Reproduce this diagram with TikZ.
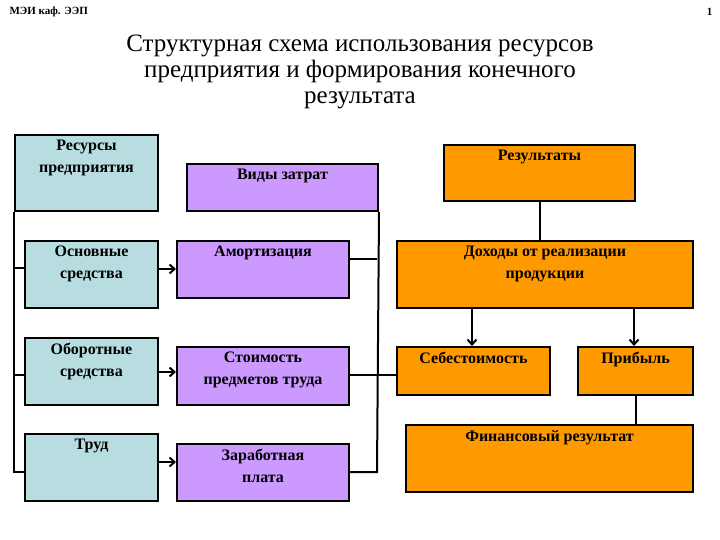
\documentclass[tikz,border=0pt]{standalone}
\usepackage{fontspec}
\setmainfont{Liberation Serif}
\usetikzlibrary{arrows.meta}
\definecolor{cblue}{HTML}{B7DDE0}
\definecolor{cpurp}{HTML}{CC99FF}
\definecolor{corng}{HTML}{FF9900}
\tikzset{
 box/.style={draw=black,line width=2pt,anchor=north west,inner sep=0pt},
 lbl/.style={anchor=north,align=center,font=\fontsize{16}{22}\selectfont\bfseries,inner sep=0pt,yshift=-6pt},
 ln/.style={line width=2pt},
 arr/.style={line width=2pt,-{Straight Barb[length=5pt,width=9pt]}}
}
\newcommand{\bx}[7]{\node[box,fill=#2,minimum width=#5pt,minimum height=#6pt] (#1) at (#3,#4) {};
 \node[lbl] (#1t) at (#1.north) {#7};}
\begin{document}
\begin{tikzpicture}[x=1pt,y=-1pt]
\useasboundingbox (0,0) rectangle (720,540);
\node[anchor=west,font=\fontsize{11}{12}\selectfont\bfseries] (hdr) at (6,12) {МЭИ каф. ЭЭП};
\node[anchor=east,font=\fontsize{11}{12}\selectfont\bfseries] (pg) at (716,12) {1};
\node[align=center,font=\fontsize{25}{26}\selectfont] (title) at (360,72) {Структурная схема использования ресурсов\\предприятия и формирования конечного\\результата};
\bx{r}{cblue}{14}{134}{143}{76}{Ресурсы\\предприятия}
\bx{os}{cblue}{24}{240}{133}{67}{Основные\\средства}
\bx{ob}{cblue}{24}{337}{133}{67}{Оборотные\\средства}
\bx{tr}{cblue}{24}{433}{133}{67}{Труд}
\bx{vz}{cpurp}{186}{163}{191}{47}{\rule{0pt}{10pt}Виды затрат}
\bx{am}{cpurp}{176}{240}{172}{57}{Амортизация}
\bx{st}{cpurp}{176}{346}{172}{58}{Стоимость\\предметов труда}
\bx{zp}{cpurp}{176}{443}{172}{57}{\rule{0pt}{6pt}Заработная\\плата}
\bx{res}{corng}{443}{144}{191}{56}{Результаты}
\bx{doh}{corng}{396}{240}{296}{67}{Доходы от реализации\\продукции}
\bx{seb}{corng}{396}{346}{153}{48}{Себестоимость}
\bx{pr}{corng}{577}{346}{115}{48}{Прибыль}
\bx{fin}{corng}{405}{424}{287}{67}{Финансовый результат}
% left bus
\coordinate (lb) at (14,472);
\draw[ln] (r.south west) -- (lb) -- (tr.west|-lb);
\draw[ln] (14,268) -- (os.west|-0,268);
\draw[ln] (14,375) -- (ob.west|-0,375);
\draw[arr] (os.east|-0,269) -- (am.west|-0,269);
\draw[arr] (ob.east|-0,372) -- (st.west|-0,372);
\draw[arr] (tr.east|-0,462) -- (zp.west|-0,462);
% right bus
\coordinate (rb) at (377,472);
\draw[ln] (vz.south east) -- (rb) -- (zp.east|-rb);
\draw[ln] (am.east|-0,259) -- (377,259);
\draw[ln] (st.east|-0,375) -- (seb.west|-0,375);
% results
\draw[ln] (res.south) -- (doh.north-|res.south);
\draw[arr] (472,307) -- (seb.north-|472,0);
\draw[arr] (634,307) -- (pr.north-|634,0);
\draw[ln] (pr.south) -- (fin.north-|pr.south);
\end{tikzpicture}
\end{document}
